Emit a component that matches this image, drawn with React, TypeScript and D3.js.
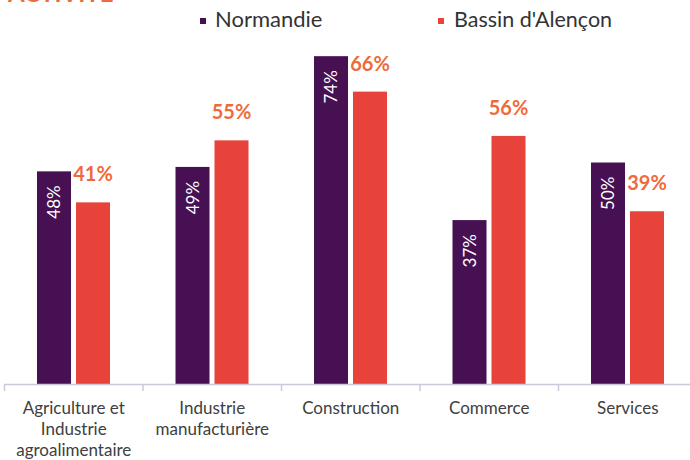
import React from "react";
import * as d3 from "d3";

const categories: string[][] = [
  ["Agriculture et", "Industrie", "agroalimentaire"],
  ["Industrie", "manufacturière"],
  ["Construction"],
  ["Commerce"],
  ["Services"],
];
const seriesNames = ["Normandie", "Bassin d'Alençon"];
const normandie = [48, 49, 74, 37, 50];
const alencon = [41, 55, 66, 56, 39];

const W = 690;
const H = 460;
const FONT = "Lato, 'Open Sans', sans-serif";
const PURPLE = "#461052";
const RED = "#e8433b";
const ORANGE = "#ef6a3b";

export default function App() {
  const keys = categories.map((c) => c.join(" "));
  const x0 = d3.scaleBand<string>().domain(keys).range([4.5, 4.5 + 5 * 138.5]).padding(0);
  const x1 = d3
    .scaleBand<string>()
    .domain(seriesNames)
    .range([32.5, 105.5])
    .paddingInner(0.128)
    .paddingOuter(0);
  const base = 384;
  const y = d3.scaleLinear().domain([0, 80]).range([base, base - 80 * 4.43]);
  const bw = x1.bandwidth();

  return (
    <svg
      width={W}
      height={H}
      style={{ position: "absolute", left: 0, top: 0, background: "#fff" }}
      fontFamily={FONT}
    >
      <text x={8} y={2} fontSize={24} fontWeight={700} fill={ORANGE}>
        ACTIVITÉ
      </text>
      {/* legend */}
      <rect x={200} y={18} width={6} height={6} fill={PURPLE} />
      <text x={215} y={27} fontSize={22} fill="#333">
        {seriesNames[0]}
      </text>
      <rect x={438} y={18} width={6} height={6} fill={RED} />
      <text x={454} y={27} fontSize={21.5} fill="#333">
        {seriesNames[1]}
      </text>

      {keys.map((k, i) => {
        const bx = x0(k)!;
        const nx = bx + x1(seriesNames[0])!;
        const ax = bx + x1(seriesNames[1])!;
        const ny = y(normandie[i]);
        const ay = y(alencon[i]);
        return (
          <g key={k}>
            <rect x={nx} y={ny} width={bw} height={base - ny} fill={PURPLE} />
            <rect x={ax} y={ay} width={bw} height={base - ay} fill={RED} />
            <text
              transform={`translate(${nx + bw / 2 + 6},${ny + 14}) rotate(-90)`}
              textAnchor="end"
              fontSize={17}
              fill="#fff"
            >
              {normandie[i]}%
            </text>
            <text
              x={ax + bw / 2}
              y={ay - 21}
              textAnchor="middle"
              fontSize={20}
              fontWeight={700}
              fill={ORANGE}
            >
              {alencon[i]}%
            </text>
            {categories[i].map((line, j) => (
              <text
                key={j}
                x={bx + x0.bandwidth() / 2}
                y={414 + j * 21}
                textAnchor="middle"
                fontSize={17}
                fill="#404040"
              >
                {line}
              </text>
            ))}
          </g>
        );
      })}

      {/* axis */}
      <line x1={4} x2={W} y1={384.5} y2={384.5} stroke="#c9c9dc" strokeWidth={1.5} />
      {keys.map((k) => (
        <line
          key={k}
          x1={x0(k)!}
          x2={x0(k)!}
          y1={384.5}
          y2={391}
          stroke="#c9c9dc"
          strokeWidth={1.5}
        />
      ))}
    </svg>
  );
}
